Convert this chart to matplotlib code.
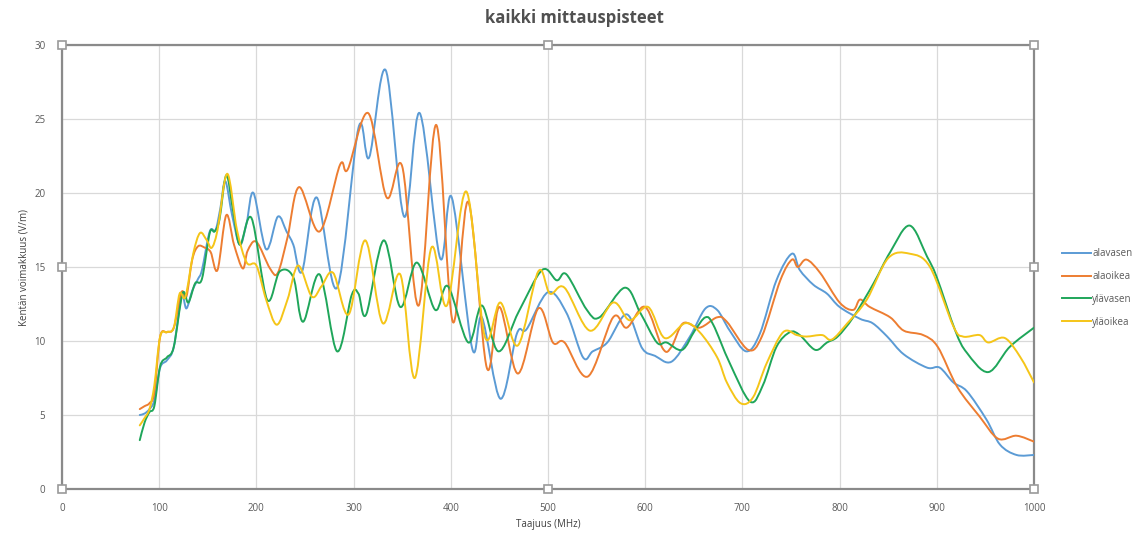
import numpy as np
import matplotlib
matplotlib.use("Agg")
import matplotlib.pyplot as plt
from matplotlib.path import Path
from matplotlib.patches import PathPatch
from matplotlib.lines import Line2D

plt.rcParams['font.family'] = ['Open Sans', 'DejaVu Sans']

title = "kaikki mittauspisteet"
x_label = "Taajuus (MHz)"
y_label = "Kentän voimakkuus (V/m)"

# Measured field strength per measuring point: (frequency MHz, V/m)
alavasen_f = [80, 85, 90, 95, 101, 108, 115, 123, 128, 134, 140, 144, 152, 158, 163, 168, 175, 183, 190, 197,
              210, 222, 231, 238, 247, 262, 283, 305, 316, 333, 352, 368, 389, 401, 422, 432, 451, 468, 478, 500,
              519, 536, 546, 561, 581, 597, 610, 627, 646, 662, 674, 687, 704, 718, 735, 751, 759, 773, 787, 800,
              821, 834, 849, 866, 890, 903, 917, 931, 951, 965, 982, 1000]
alavasen_v = [5.0, 5.1, 5.4, 6.0, 8.2, 8.7, 9.6, 13.0, 12.2, 13.4, 14.2, 14.8, 17.4, 17.5, 19.0, 20.8, 18.5, 16.5, 18.0, 20.0,
              16.2, 18.4, 17.4, 16.5, 14.7, 19.7, 13.6, 24.4, 22.4, 28.3, 18.4, 25.4, 15.6, 19.7, 9.5, 11.6, 6.1, 10.5, 10.8, 13.3,
              11.9, 8.9, 9.3, 9.9, 11.8, 9.5, 9.0, 8.6, 10.3, 12.2, 12.1, 10.7, 9.3, 10.5, 14.1, 15.9, 14.8, 13.8, 13.2, 12.3,
              11.5, 11.2, 10.3, 9.1, 8.2, 8.2, 7.2, 6.6, 4.7, 3.0, 2.3, 2.3]

alaoikea_f = [80, 85, 90, 95, 101, 108, 115, 123, 128, 134, 140, 147, 153, 160, 169, 177, 186, 191, 200, 214,
              222, 232, 244, 265, 286, 294, 315, 334, 350, 367, 385, 402, 418, 437, 450, 469, 490, 505, 517,
              541, 567, 581, 600, 618, 627, 639, 656, 674, 684, 706, 720, 739, 751, 757, 766, 780, 800, 814, 821,
              831, 852, 866, 886, 901, 921, 944, 963, 982, 1000]
alaoikea_v = [5.4, 5.6, 5.8, 6.5, 10.3, 10.6, 10.9, 13.3, 13.0, 15.5, 16.4, 16.3, 16.0, 14.8, 18.5, 16.5, 14.9, 16.1, 16.7, 14.9,
              14.6, 17.0, 20.4, 17.4, 21.9, 21.6, 25.4, 19.7, 21.8, 12.4, 24.6, 11.3, 19.4, 8.2, 12.3, 7.8, 12.2, 9.9, 9.9,
              7.6, 11.6, 10.9, 12.3, 9.5, 9.6, 11.2, 10.9, 11.6, 11.3, 9.4, 10.3, 14.1, 15.5, 15.0, 15.5, 14.6, 12.6, 12.1, 12.8,
              12.3, 11.6, 10.7, 10.4, 9.6, 6.9, 4.9, 3.4, 3.6, 3.2]

ylavasen_f = [80, 85, 90, 95, 101, 108, 115, 124, 130, 137, 144, 152, 157, 162, 169, 176, 183, 195, 211, 224,
              238, 248, 265, 283, 298, 305, 313, 331, 348, 365, 384, 397, 418, 432, 449, 470, 494, 509, 519, 540,
              553, 579, 595, 612, 622, 638, 651, 662, 670, 687, 708, 721, 735, 749, 759, 775, 787, 798, 814, 835,
              852, 872, 890, 900, 919, 931, 953, 975, 1000]
ylavasen_v = [3.3, 4.5, 5.2, 5.6, 8.3, 8.9, 9.6, 13.2, 12.6, 13.9, 14.2, 17.3, 17.4, 18.2, 21.2, 18.8, 16.5, 18.3, 12.8, 14.7,
              14.3, 11.3, 14.5, 9.3, 13.1, 13.2, 11.8, 16.8, 12.3, 15.3, 12.1, 13.7, 9.9, 12.4, 9.3, 12.0, 14.8, 14.1, 14.5, 12.1,
              11.6, 13.6, 11.9, 9.9, 9.9, 9.4, 10.7, 11.6, 11.1, 8.5, 5.9, 7.0, 9.6, 10.6, 10.4, 9.4, 9.9, 10.3, 11.6, 13.9,
              16.0, 17.8, 15.7, 14.3, 10.7, 9.2, 7.9, 9.6, 10.9]

ylaoikea_f = [80, 85, 90, 95, 101, 108, 115, 121, 127, 135, 142, 149, 154, 160, 170, 180, 190, 200, 210, 221,
              232, 243, 257, 267, 279, 295, 312, 330, 348, 363, 380, 396, 416, 435, 451, 469, 490, 502, 517, 543,
              567, 584, 603, 620, 641, 656, 674, 684, 698, 711, 725, 742, 756, 766, 782, 792, 808, 828, 850, 872,
              893, 917, 927, 944, 953, 970, 986, 1000]
ylaoikea_v = [4.3, 4.8, 5.4, 7.0, 10.3, 10.6, 10.9, 13.2, 13.0, 15.9, 17.3, 16.8, 16.3, 17.5, 21.3, 17.5, 15.3, 15.1, 12.8, 11.1,
              12.8, 15.1, 13.0, 13.7, 14.6, 11.8, 16.8, 11.2, 14.5, 7.5, 16.3, 12.4, 20.1, 10.3, 12.6, 9.7, 14.7, 13.2, 13.6, 10.7,
              12.6, 11.4, 12.3, 10.2, 11.2, 10.6, 8.9, 7.2, 5.8, 6.2, 8.5, 10.6, 10.4, 10.3, 10.4, 10.1, 11.2, 12.8, 15.6, 15.9,
              15.0, 11.0, 10.3, 10.4, 9.9, 10.2, 8.9, 7.2]

series_names = ["alavasen", "alaoikea", "ylävasen", "yläoikea"]
series_data = [(alavasen_f, alavasen_v), (alaoikea_f, alaoikea_v),
               (ylavasen_f, ylavasen_v), (ylaoikea_f, ylaoikea_v)]
colors = ["#5B9BD5", "#ED7D31", "#1FA65A", "#F5C518"]

x_ticks = list(range(0, 1001, 100))
y_ticks = list(range(0, 31, 5))


def smooth_path(xs, ys):
    """Cubic Bezier path through the points (spreadsheet-style smoothed line)."""
    pts = np.column_stack([xs, ys]).astype(float)
    n = len(pts)
    verts = [pts[0]]
    codes = [Path.MOVETO]
    for i in range(n - 1):
        p0 = pts[i - 1] if i > 0 else pts[i]
        p1 = pts[i]
        p2 = pts[i + 1]
        p3 = pts[i + 2] if i + 2 < n else pts[i + 1]
        c1 = p1 + (p2 - p0) / 6.0
        c2 = p2 - (p3 - p1) / 6.0
        verts += [c1, c2, p2]
        codes += [Path.CURVE4] * 3
    return Path(verts, codes)


W, H = 1145, 538
fig = plt.figure(figsize=(W / 100, H / 100), dpi=100)
fig.patch.set_facecolor("white")
L, R, T, B = 62, 1034, 45, 489
ax = fig.add_axes([L / W, 1 - B / H, (R - L) / W, (B - T) / H])

ax.set_xlim(0, 1000)
ax.set_ylim(0, 30)
ax.set_xticks(x_ticks)
ax.set_yticks(y_ticks)
ax.grid(True, color="#d9d9d9", linewidth=0.9)
ax.set_axisbelow(True)
ax.tick_params(length=0, labelsize=7, colors="#595959", pad=10)
ax.tick_params(axis='y', pad=12)
for s in ax.spines.values():
    s.set_color("#8a8a8a")
    s.set_linewidth(1.6)

for (fx, vy), c in zip(series_data, colors):
    patch = PathPatch(smooth_path(fx, vy), facecolor="none", edgecolor=c,
                      linewidth=1.4, transform=ax.transData, zorder=3,
                      capstyle="round", joinstyle="round")
    ax.add_patch(patch)

# selection handles on the plot-area frame
hx = [0, 0.5, 1, 0, 1, 0, 0.5, 1]
hy = [1, 1, 1, 0.5, 0.5, 0, 0, 0]
ax.plot(hx, hy, linestyle="none", marker="s", markersize=6, markerfacecolor="white",
        markeredgecolor="#9a9a9a", markeredgewidth=1.2, transform=ax.transAxes,
        clip_on=False, zorder=10)

ax.set_xlabel(x_label, fontsize=7, color="#404040", labelpad=4)
ax.set_ylabel(y_label, fontsize=7, color="#404040")
ax.yaxis.set_label_coords((30 - L) / (R - L), 0.5)

fig.text(574 / W, 1 - 18 / H, title, ha="center", va="center", fontsize=12,
         fontweight="bold", color="#505050")

handles = [Line2D([0], [0], color=c, linewidth=1.4) for c in colors]
fig.legend(handles, series_names, loc="center left",
           bbox_to_anchor=(1058 / W, 1 - 288 / H), frameon=False, fontsize=7,
           labelcolor="#595959", handlelength=3.0, handletextpad=0.1,
           labelspacing=1.2, borderaxespad=0)

fig.savefig("out.png", dpi=100, facecolor="white")
